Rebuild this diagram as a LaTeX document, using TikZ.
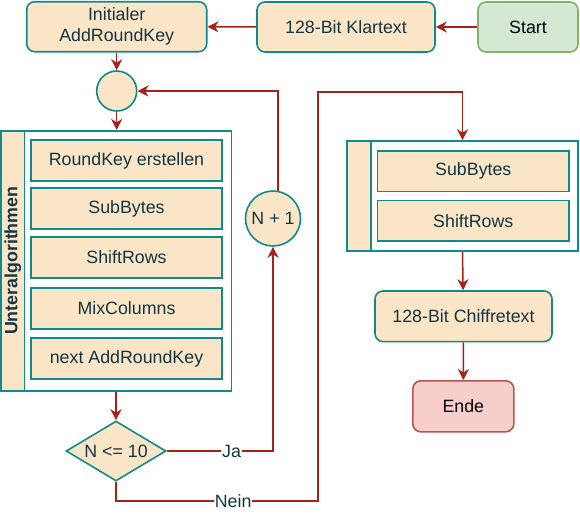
\documentclass[tikz,border=0pt]{standalone}
\usepackage{fontspec}
\setmainfont{Liberation Sans}
\usetikzlibrary{arrows.meta,shapes.geometric,calc}
\definecolor{bfill}{HTML}{FAE5C7}
\definecolor{bstroke}{HTML}{0F8B8D}
\definecolor{btext}{HTML}{143642}
\definecolor{arrc}{HTML}{A8201A}
\definecolor{gfill}{HTML}{D5E8D4}
\definecolor{gstroke}{HTML}{82B366}
\definecolor{rfill}{HTML}{F8CECC}
\definecolor{rstroke}{HTML}{B85450}
\tikzset{
  x=1pt,y=-1pt,
  txt/.style={font=\fontsize{17.8}{21}\selectfont, text=btext},
  rbox/.style={txt, draw=bstroke, fill=bfill, line width=1.6pt, rounded corners=8pt, inner sep=0pt, align=center},
  sbox/.style={txt, draw=bstroke, fill=bfill, line width=1.6pt, inner sep=0pt, align=center},
  cbox/.style={draw=bstroke, fill=white, line width=1.6pt, inner sep=0pt},
  strip/.style={draw=bstroke, fill=bfill, line width=1.6pt, inner sep=0pt},
  circ/.style={txt, circle, draw=bstroke, fill=bfill, line width=1.6pt, inner sep=0pt},
  dia/.style={txt, diamond, draw=bstroke, fill=bfill, line width=1.6pt, inner sep=0pt, aspect=1.667},
  arr/.style={draw=arrc, line width=1.5pt, -{Stealth[length=11pt,width=11pt,inset=3.5pt]}},
  lbl/.style={txt, fill=white, inner sep=1pt}
}
\begin{document}
\begin{tikzpicture}
\useasboundingbox (0,0) rectangle (580,515);
% top row
\node[rbox, minimum width=180, minimum height=50] (init) at (116.7,26.7) {Initialer\\AddRoundKey};
\node[rbox, minimum width=178, minimum height=50] (klar) at (346,27) {128-Bit Klartext};
\node[rbox, draw=gstroke, fill=gfill, text=black, minimum width=100, minimum height=50] (start) at (528,27) {Start};
% loop circle
\node[circ, minimum size=40] (c1) at (116.7,91) {};
% left container
\node[cbox, minimum width=230.7, minimum height=260] (cont1) at (116.3,260.7) {};
\node[strip, minimum width=23.5, minimum height=260] (strip1) at (12.75,260.7) {};
\node[txt, font=\fontsize{17.8}{21}\selectfont\bfseries, rotate=90] (ual) at (strip1.center) {Unteralgorithmen};
\node[sbox, minimum width=191, minimum height=41] (rk) at (126.5,160.5) {RoundKey erstellen};
\node[sbox, minimum width=191, minimum height=41] (sb1) at (126.5,208.4) {SubBytes};
\node[sbox, minimum width=191, minimum height=41] (sr1) at (126.5,257.6) {ShiftRows};
\node[sbox, minimum width=191, minimum height=41] (mc) at (126.5,308.3) {MixColumns};
\node[sbox, minimum width=191, minimum height=41] (nark) at (126.5,358.5) {next AddRoundKey};
% decision
\node[dia, minimum width=100, minimum height=60] (dec) at (116,451) {N <= 10};
% N+1
\node[circ, minimum size=55] (n1) at (273,218.5) {N + 1};
% right container
\node[cbox, minimum width=231, minimum height=110] (cont2) at (462.5,196) {};
\node[strip, minimum width=24, minimum height=110] (strip2) at (359,196) {};
\node[sbox, minimum width=191.3, minimum height=40.7] (sb2) at (473.3,171.3) {SubBytes};
\node[sbox, minimum width=191.3, minimum height=40.7] (sr2) at (473.3,220.8) {ShiftRows};
% end
\node[rbox, minimum width=177, minimum height=50.7] (chif) at (463.5,316.3) {128-Bit Chiffretext};
\node[rbox, draw=rstroke, fill=rfill, text=black, minimum width=101, minimum height=51] (ende) at (463.3,406.3) {Ende};
% connectors
\draw[arr] (start) -- (klar);
\draw[arr] (klar) -- (init);
\draw[arr] (init) -- (c1);
\draw[arr] (c1) -- (c1 |- cont1.north);
\draw[arr] (cont1.south -| dec.north) -- (dec.north);
\coordinate (jacorner) at (n1.south |- dec.east);
\draw[arr] (dec.east) -- node[lbl, pos=0.61]{Ja} (jacorner) -- (n1.south);
\draw[arr] (n1.80) |- (c1.east);
\coordinate (nbr) at (318,501);
\coordinate (ntr) at (318,92);
\coordinate (nbl) at (dec.south |- nbr);
\draw[arr] (dec.south) -- (nbl) -- node[lbl, pos=0.58]{Nein} (nbr) -- (ntr) -| (cont2.north);
\draw[arr] (cont2.south) -- (chif);
\draw[arr] (chif) -- (ende);
\end{tikzpicture}
\end{document}
